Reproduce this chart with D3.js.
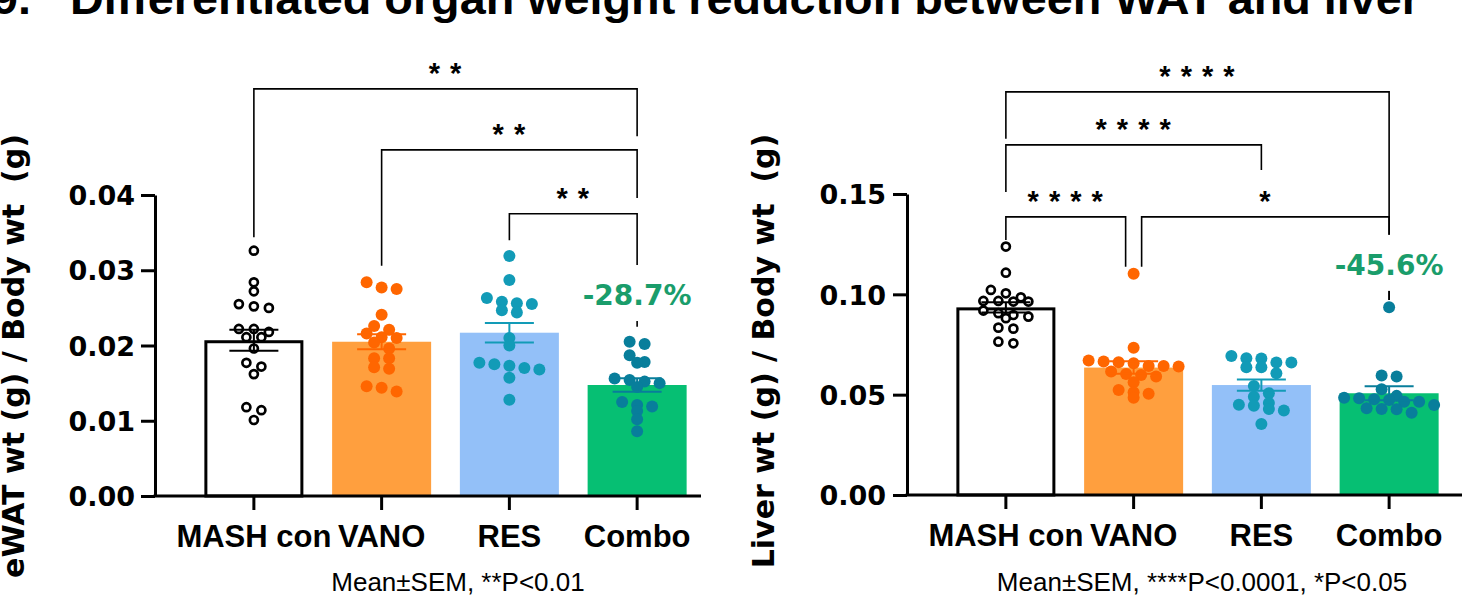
<!DOCTYPE html>
<html>
<head>
<meta charset="utf-8">
<script src="https://cdn.jsdelivr.net/npm/d3@7"></script>
<style>
  body { margin: 0; background: #fff; }
  svg { display: block; }
</style>
</head>
<body>
<svg id="fig" width="1462" height="597"></svg>
<script>
// groups and summary values
const groups = ["MASH con", "VANO", "RES", "Combo"];

const ewatMean = [0.0207, 0.0205, 0.0217, 0.01475];
const ewatSem = [0.0014, 0.0010, 0.0013, 0.0009];
const ewatMash = [0.0326, 0.0284, 0.0272, 0.0250, 0.0252, 0.0255, 0.0222, 0.0211, 0.0222, 0.0211,
  0.0196, 0.0218, 0.0172, 0.0177, 0.0162, 0.0118, 0.0114, 0.0101];
const ewatVano = [0.0277, 0.0275, 0.0284, 0.0241, 0.0226, 0.0216, 0.0221, 0.0211, 0.0210, 0.0204,
  0.0196, 0.0183, 0.0183, 0.0171, 0.0169, 0.0139, 0.0146, 0.0144];
const ewatRes = [0.0319, 0.0287, 0.0256, 0.0258, 0.0255, 0.0263, 0.0244, 0.0247, 0.0210, 0.0200,
  0.0173, 0.0177, 0.0168, 0.0175, 0.0170, 0.0157, 0.0128];
const ewatCombo = [0.0205, 0.0202, 0.0187, 0.0178, 0.0177, 0.0154, 0.0156, 0.0150, 0.0152, 0.0145,
  0.0119, 0.0121, 0.0125, 0.0113, 0.0102, 0.0086];

const liverMean = [0.0935, 0.0635, 0.0548, 0.0507];
const liverSem = [0.0025, 0.0031, 0.0028, 0.0035];
const liverMash = [0.1238, 0.1108, 0.1022, 0.0985, 0.1005, 0.0967, 0.0964, 0.0964, 0.0967, 0.0919,
  0.0897, 0.0906, 0.0881, 0.0889, 0.0829, 0.0834, 0.0756, 0.0764];
const liverVano = [0.1102, 0.0734, 0.0643, 0.0662, 0.0670, 0.0640, 0.0643, 0.0657, 0.0665, 0.0603,
  0.0615, 0.0590, 0.0598, 0.0562, 0.0512, 0.0505, 0.0523, 0.0485];
const liverRes = [0.0693, 0.0660, 0.0681, 0.0680, 0.0660, 0.0637, 0.0637, 0.0607, 0.0543, 0.0507,
  0.0490, 0.0445, 0.0459, 0.0429, 0.0450, 0.0421, 0.0354];
const liverCombo = [0.0936, 0.0590, 0.0595, 0.0527, 0.0494, 0.0477, 0.0485, 0.0482, 0.0474, 0.0449,
  0.0465, 0.0465, 0.0410, 0.0432, 0.0427, 0.0429];

const ewatTicks = [0, 0.01, 0.02, 0.03, 0.04];
const liverTicks = [0, 0.05, 0.10, 0.15];

// significance brackets, heights in data units
const ewatBrackets = [
  { a: "MASH con", b: "Combo", level: 0.0541, endA: 0.0344, endB: 0.0478, label: "* *" },
  { a: "VANO", b: "Combo", level: 0.0460, endA: 0.0306, endB: 0.0396, label: "* *" },
  { a: "RES", b: "Combo", level: 0.0375, endA: 0.0340, endB: 0.0225, label: "* *" }
];
const liverBrackets = [
  { a: "MASH con", b: "Combo", level: 0.2009, endA: 0.1775, endB: 0.0972, label: "* * * *" },
  { a: "MASH con", b: "RES", level: 0.1745, endA: 0.1510, endB: 0.1620, label: "* * * *" },
  { a: "MASH con", b: "VANO", level: 0.1386, endA: 0.1271, endB: 0.1137, label: "* * * *" },
  { a: "VANO", b: "Combo", level: 0.1386, endA: 0.1137, endB: 0.0972, label: "*" }
];

const ewatChange = { text: "-28.7%", value: 0.02538 };
const liverChange = { text: "-45.6%", value: 0.1097 };

const barFill = ["#ffffff", "#ff9f3e", "#93c0f8", "#06bf73"];
const dotColor = ["#000000", "#ff6600", "#129bb7", "#087e9b"];
const pctColor = "#1a9d6b";

const svg = d3.select("#fig");

svg.append("text")
  .attr("x", -8)
  .attr("y", 14)
  .attr("textLength", 1428)
  .attr("lengthAdjust", "spacingAndGlyphs")
  .style("font-family", "Liberation Sans, Arial, sans-serif")
  .style("font-weight", "bold")
  .style("font-size", "44px")
  .style("white-space", "pre")
  .text("9.   Differentiated organ weight reduction between WAT and liver");

// simple row-based swarm like the prism layout
function swarm(values, cx, y, step, rowH) {
  let pts = values.map(v => ({ v: v, y: y(v) })).sort((p, q) => p.y - q.y);
  let rows = [];
  let cur = null;
  pts.forEach(p => {
    if (!cur || p.y - cur[0].y > rowH) {
      cur = [p];
      rows.push(cur);
    } else {
      cur.push(p);
    }
  });
  rows.forEach(r => r.forEach((p, i) => { p.x = cx + (i - (r.length - 1) / 2) * step; }));
  return pts;
}

function drawPanel(cfg) {
  let g = svg.append("g");

  let y = d3.scaleLinear().domain(cfg.domain).range([cfg.y0, cfg.yTop]);
  let x = d3.scaleBand()
    .domain(groups)
    .range([cfg.bandLeft, cfg.bandRight])
    .paddingInner(0.225)
    .paddingOuter(0.1125);

  // bars
  g.selectAll(".bar")
    .data(groups)
    .join("rect")
    .attr("class", "bar")
    .attr("x", (d, i) => i === 0 ? x(d) + 1.5 : x(d))
    .attr("width", (d, i) => i === 0 ? x.bandwidth() - 3 : x.bandwidth())
    .attr("y", (d, i) => y(cfg.mean[i]) + (i === 0 ? 1.5 : 0))
    .attr("height", (d, i) => y(0) - y(cfg.mean[i]) - (i === 0 ? 1.5 : 0))
    .style("fill", (d, i) => barFill[i])
    .style("stroke", (d, i) => i === 0 ? "#000" : "none")
    .style("stroke-width", 3);

  // dots
  cfg.points.forEach((vals, i) => {
    let cx = x(groups[i]) + x.bandwidth() / 2;
    let pts = swarm(vals, cx, y, 15, 7.5);
    g.selectAll(".dot" + i)
      .data(pts)
      .join("circle")
      .attr("class", "dot" + i)
      .attr("cx", d => d.x)
      .attr("cy", d => d.y)
      .attr("r", i === 0 ? 4 : 6)
      .style("fill", i === 0 ? "#fff" : dotColor[i])
      .style("stroke", i === 0 ? "#000" : "none")
      .style("stroke-width", 2.7);
  });

  // error bars
  groups.forEach((grp, i) => {
    let cx = x(grp) + x.bandwidth() / 2;
    let lo = y(cfg.mean[i] - cfg.sem[i]);
    let hi = y(cfg.mean[i] + cfg.sem[i]);
    let eb = g.append("g").style("stroke", dotColor[i]).style("stroke-width", 2);
    eb.append("line").attr("x1", cx).attr("x2", cx).attr("y1", lo).attr("y2", hi);
    eb.append("line").attr("x1", cx - 24.5).attr("x2", cx + 24.5).attr("y1", lo).attr("y2", lo);
    eb.append("line").attr("x1", cx - 24.5).attr("x2", cx + 24.5).attr("y1", hi).attr("y2", hi);
  });

  // axes
  let yAxis = d3.axisLeft(y)
    .tickValues(cfg.ticks)
    .tickFormat(d3.format(".2f"))
    .tickSize(14)
    .tickSizeOuter(0)
    .tickPadding(cfg.tickPad);
  let yAxisG = g.append("g")
    .attr("transform", `translate(${cfg.axisX},0)`)
    .call(yAxis);
  yAxisG.select(".domain").style("stroke-width", 3);
  yAxisG.selectAll(".tick line").style("stroke-width", 3);
  yAxisG.selectAll(".tick text")
    .attr("dy", "0.36em")
    .style("font-family", "DejaVu Sans, sans-serif")
    .style("font-weight", "bold")
    .style("font-size", "27px")
    .style("fill", "#000");

  let xAxis = d3.axisBottom(x).tickSize(14).tickSizeOuter(0).tickPadding(15);
  let xAxisG = g.append("g")
    .attr("transform", `translate(0,${cfg.y0})`)
    .call(xAxis);
  xAxisG.select(".domain").remove();
  xAxisG.selectAll(".tick line").style("stroke-width", 3);
  xAxisG.selectAll(".tick text")
    .style("font-family", "Liberation Sans, Arial, sans-serif")
    .style("font-weight", "bold")
    .style("font-size", "31px")
    .style("fill", "#000");
  g.append("line")
    .attr("x1", cfg.axisX - 1.5)
    .attr("x2", cfg.axisEnd)
    .attr("y1", cfg.y0)
    .attr("y2", cfg.y0)
    .style("stroke", "#000")
    .style("stroke-width", 3);

  // brackets
  let cx = grp => x(grp) + x.bandwidth() / 2;
  cfg.brackets.forEach(b => {
    let xa = cx(b.a);
    let xb = cx(b.b);
    // nudge ends that share a group at the same level
    cfg.brackets.forEach(o => {
      if (o === b || o.level !== b.level) return;
      if (o.a === b.b) xb -= 8;
      if (o.b === b.a) xa += 8;
    });
    let ly = y(b.level);
    g.append("path")
      .attr("d", `M${xa},${y(b.endA)}V${ly}H${xb}V${y(b.endB)}`)
      .style("fill", "none")
      .style("stroke", "#000")
      .style("stroke-width", 1.6);
    g.append("text")
      .attr("x", (xa + xb) / 2)
      .attr("y", ly - 6)
      .attr("text-anchor", "middle")
      .style("font-family", "Liberation Sans, Arial, sans-serif")
      .style("font-weight", "bold")
      .style("font-size", "29px")
      .style("letter-spacing", "1px")
      .text(b.label);
  });

  // percent change label over Combo
  let px = cx("Combo");
  let py = y(cfg.change.value);
  g.append("rect")
    .attr("x", px - 62)
    .attr("y", py - 40)
    .attr("width", 124)
    .attr("height", 56)
    .style("fill", "#fff");
  g.append("text")
    .attr("x", px)
    .attr("y", py)
    .attr("text-anchor", "middle")
    .style("font-family", "DejaVu Sans, sans-serif")
    .style("font-weight", "bold")
    .style("font-size", "28px")
    .style("fill", pctColor)
    .text(cfg.change.text);

  // y title
  g.append("text")
    .attr("transform", `translate(${cfg.titleX},${cfg.titleY}) rotate(-90)`)
    .attr("text-anchor", "middle")
    .style("font-family", "DejaVu Sans, sans-serif")
    .style("font-weight", "bold")
    .style("font-size", "30px")
    .style("white-space", "pre")
    .text(cfg.yTitle);

  // footnote
  g.append("text")
    .attr("x", cfg.noteX)
    .attr("y", 591)
    .attr("text-anchor", "middle")
    .style("font-family", "Liberation Sans, Arial, sans-serif")
    .style("font-size", "26px")
    .text(cfg.note);
}

drawPanel({
  domain: [0, 0.04], y0: 496, yTop: 195, ticks: ewatTicks,
  bandLeft: 190, bandRight: 701, axisX: 155, axisEnd: 701, tickPad: 6,
  mean: ewatMean, sem: ewatSem,
  points: [ewatMash, ewatVano, ewatRes, ewatCombo],
  brackets: ewatBrackets, change: ewatChange,
  yTitle: "eWAT wt (g) / Body wt  (g)", titleX: 24, titleY: 356,
  note: "Mean±SEM, **P<0.01", noteX: 458
});

drawPanel({
  domain: [0, 0.15], y0: 495, yTop: 194, ticks: liverTicks,
  bandLeft: 942, bandRight: 1453, axisX: 907, axisEnd: 1462, tickPad: 7,
  mean: liverMean, sem: liverSem,
  points: [liverMash, liverVano, liverRes, liverCombo],
  brackets: liverBrackets, change: liverChange,
  yTitle: "Liver wt (g) / Body wt  (g)", titleX: 774, titleY: 351,
  note: "Mean±SEM, ****P<0.0001, *P<0.05", noteX: 1202
});
</script>
</body>
</html>
